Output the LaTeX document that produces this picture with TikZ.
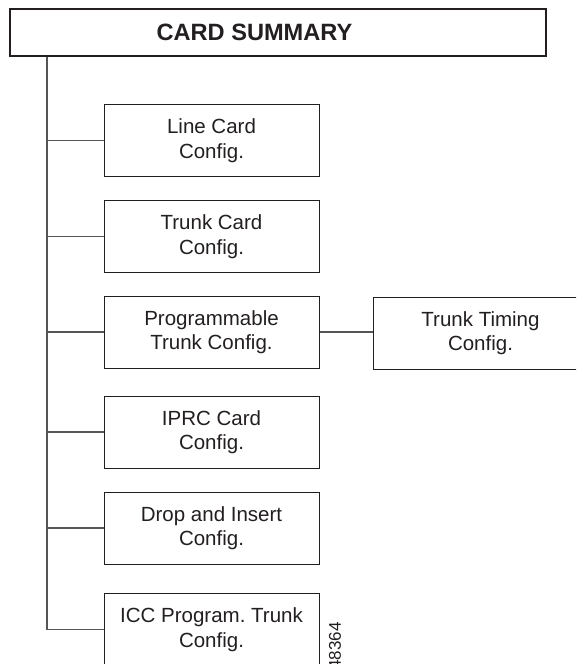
\documentclass[tikz,border=0pt]{standalone}
\usepackage{fontspec}
\setmainfont{Liberation Sans}
\frenchspacing
\definecolor{ink}{HTML}{231F20}
\definecolor{wire}{HTML}{555555}
\tikzset{
  card/.style={draw=ink, line width=1pt, minimum width=215pt, minimum height=72pt,
    inner sep=0pt, align=center, text=ink, font=\fontsize{20.5}{24.5}\selectfont},
  headbox/.style={draw=ink, line width=2.2pt, minimum width=536pt, minimum height=47pt,
    inner sep=0pt},
  headtext/.style={text=ink, inner sep=0pt, font=\fontsize{23.6}{27}\selectfont\bfseries},
  wireline/.style={draw=wire, line width=1.1pt},
}
\begin{document}
\begin{tikzpicture}[x=1pt,y=-1pt]
\clip (0,0) rectangle (576,664);
\fill[white] (0,0) rectangle (576,664);
\node[headbox] (head) at (278,32.5) {};
\node[headtext] (title) at (254.5,32.5) {CARD SUMMARY};
\node[card] (line) at (211.5,140.5) {Line Card\\Config.};
\node[card] (trunk) at (211.5,236.5) {Trunk Card\\Config.};
\node[card] (prog) at (211.5,332) {Programmable\\Trunk Config.};
\node[card] (timing) at (480.5,333) {Trunk Timing\\Config.};
\node[card] (iprc) at (211.5,432) {IPRC Card\\Config.};
\node[card] (drop) at (211.5,528) {Drop and Insert\\Config.};
\node[card] (icc) at (211.5,629.5) {ICC Program. Trunk\\Config.};
\node[rotate=90, text=ink, font=\fontsize{17}{20}\selectfont] (num) at (335,646) {48364};
\coordinate (top) at (47,57);
\coordinate (bot) at (47,629.5);
\coordinate (j1) at (47,140.5);
\coordinate (j2) at (47,236.5);
\coordinate (j3) at (47,332);
\coordinate (j4) at (47,432);
\coordinate (j5) at (47,528);
\draw[wireline] (top) -- (bot) -- (icc.west);
\draw[wireline] (j1) -- (line.west);
\draw[wireline] (j2) -- (trunk.west);
\draw[wireline] (j3) -- (prog.west);
\draw[wireline] (j4) -- (iprc.west);
\draw[wireline] (j5) -- (drop.west);
\draw[wireline] (prog.east) -- (timing.west |- prog.east);
\end{tikzpicture}
\end{document}
